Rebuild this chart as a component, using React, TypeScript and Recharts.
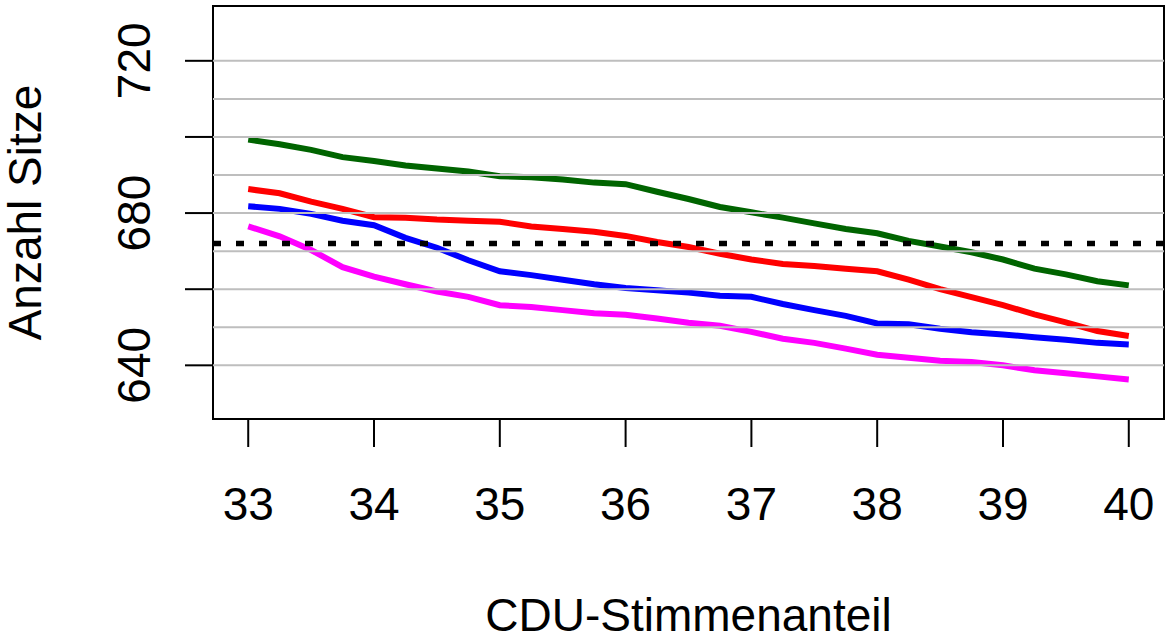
import React from "react";
import { LineChart, Line, XAxis, YAxis, ReferenceLine, ReferenceArea } from "recharts";

const cduShare = [
  33, 33.25, 33.5, 33.75, 34, 34.25, 34.5, 34.75, 35, 35.25, 35.5, 35.75, 36, 36.25, 36.5,
  36.75, 37, 37.25, 37.5, 37.75, 38, 38.25, 38.5, 38.75, 39, 39.25, 39.5, 39.75, 40,
];

const greenSeats = [
  699.3, 698.1, 696.6, 694.7, 693.7, 692.5, 691.7, 690.9, 689.7, 689.4, 688.8, 688.0, 687.6, 685.6,
  683.7, 681.6, 680.2, 678.8, 677.3, 675.8, 674.7, 672.7, 671.2, 669.7, 667.8, 665.4, 663.9, 662.1, 661.0,
];
const redSeats = [
  686.3, 685.2, 683.0, 681.1, 678.9, 678.8, 678.3, 678.0, 677.7, 676.5, 675.8, 675.1, 674.0, 672.4,
  671.1, 669.3, 667.8, 666.6, 666.1, 665.4, 664.7, 662.5, 660.0, 657.9, 655.8, 653.4, 651.3, 649.0, 647.7,
];
const blueSeats = [
  681.8, 681.1, 679.8, 678.0, 676.8, 673.5, 670.9, 667.6, 664.7, 663.7, 662.5, 661.3, 660.3, 659.7,
  659.1, 658.3, 658.0, 656.1, 654.5, 653.0, 651.0, 650.8, 649.6, 648.7, 648.1, 647.4, 646.7, 645.9, 645.5,
];
const magentaSeats = [
  676.5, 673.9, 670.3, 665.8, 663.3, 661.3, 659.4, 658.0, 655.8, 655.3, 654.5, 653.7, 653.3, 652.3,
  651.2, 650.4, 648.8, 647.0, 645.9, 644.4, 642.8, 642.0, 641.2, 640.9, 640.0, 638.7, 637.9, 637.1, 636.3,
];

const xTicks = [33, 34, 35, 36, 37, 38, 39, 40];
const yTicks = [640, 660, 680, 700, 720];
const yLabels = [640, 680, 720];
const gridValues = [640, 650, 660, 670, 680, 690, 700, 710, 720];
const regularSize = 672;

const xDomain: [number, number] = [32.72, 40.28];
const yDomain: [number, number] = [625.9, 734.4];

const FONT = "'Liberation Sans', Arial, Helvetica, sans-serif";

const data = cduShare.map((x, i) => ({
  x,
  green: greenSeats[i],
  red: redSeats[i],
  blue: blueSeats[i],
  magenta: magentaSeats[i],
}));

const XTick = ({ x, y, payload }: any) => (
  <text x={x} y={y + 71} textAnchor="middle" fontSize={46} fontFamily={FONT} fill="#000">
    {payload.value}
  </text>
);

const YTick = ({ x, y, payload }: any) => {
  if (!yLabels.includes(payload.value)) return null;
  return (
    <text
      transform={`translate(${x - 33}, ${y}) rotate(-90)`}
      textAnchor="middle"
      fontSize={46}
      fontFamily={FONT}
      fill="#000"
    >
      {payload.value}
    </text>
  );
};

const XTitle = ({ viewBox }: any) => (
  <text
    x={viewBox.x + viewBox.width / 2}
    y={viewBox.y + 212}
    textAnchor="middle"
    fontSize={46}
    fontFamily={FONT}
    fill="#000"
  >
    CDU-Stimmenanteil
  </text>
);

const YTitle = ({ viewBox }: any) => (
  <text
    transform={`translate(${viewBox.x + 41}, ${viewBox.y + viewBox.height / 2}) rotate(-90)`}
    textAnchor="middle"
    fontSize={46}
    fontFamily={FONT}
    fill="#000"
  >
    Anzahl Sitze
  </text>
);

const series = [
  { key: "green", color: "#006400" },
  { key: "red", color: "#FF0000" },
  { key: "blue", color: "#0000FF" },
  { key: "magenta", color: "#FF00FF" },
];

export default function App() {
  return (
    <div style={{ position: "fixed", left: 0, top: 0, background: "#fff" }}>
      <LineChart width={1166} height={635} data={data} margin={{ top: 6, right: 2, bottom: 0, left: 0 }}>
        <XAxis
          dataKey="x"
          type="number"
          domain={xDomain}
          ticks={xTicks}
          allowDataOverflow
          axisLine={false}
          tickSize={28}
          tickLine={{ stroke: "#000", strokeWidth: 2 }}
          tick={<XTick />}
          height={216}
          label={<XTitle />}
        />
        <YAxis
          type="number"
          domain={yDomain}
          ticks={yTicks}
          allowDataOverflow
          axisLine={false}
          tickSize={28}
          tickLine={{ stroke: "#000", strokeWidth: 2 }}
          tick={<YTick />}
          width={213}
          label={<YTitle />}
        />
        {series.map((s) => (
          <Line
            key={s.key}
            dataKey={s.key}
            type="linear"
            stroke={s.color}
            strokeWidth={6}
            dot={false}
            isAnimationActive={false}
          />
        ))}
        {gridValues.map((v) => (
          <ReferenceLine key={v} y={v} stroke="#BEBEBE" strokeWidth={2} />
        ))}
        <ReferenceLine y={regularSize} stroke="#000" strokeWidth={5.5} strokeDasharray="8 15" />
        <ReferenceArea
          x1={xDomain[0]}
          x2={xDomain[1]}
          y1={yDomain[0]}
          y2={yDomain[1]}
          fill="none"
          fillOpacity={0}
          stroke="#000"
          strokeWidth={2}
        />
      </LineChart>
    </div>
  );
}
